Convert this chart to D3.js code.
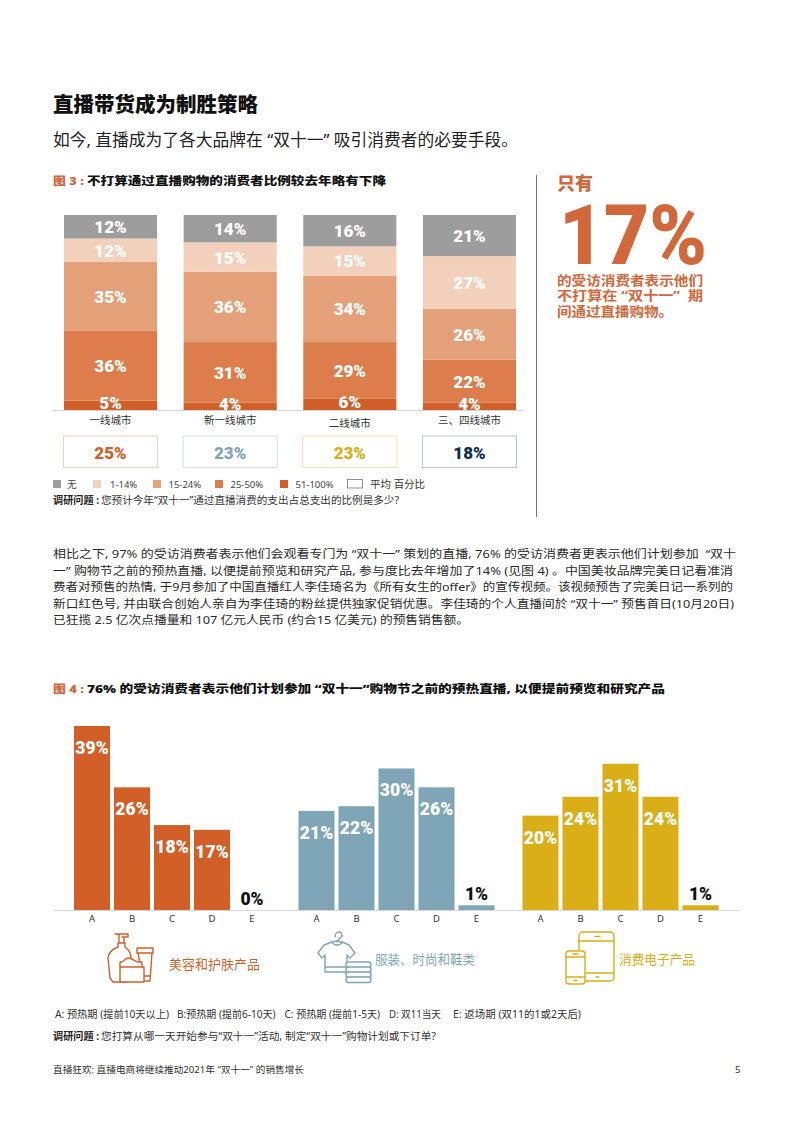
<!DOCTYPE html>
<html>
<head>
<meta charset="utf-8">
<script src="https://cdn.jsdelivr.net/npm/d3@7"></script>
<style>
  html, body { margin: 0; padding: 0; background: #fff; }
  svg { display: block; }
  text { font-family: "Noto Sans", "Noto Sans CJK SC", sans-serif; white-space: pre; }
  .num { font-family: Roboto, "Noto Sans", sans-serif; font-weight: 900; }
  .icon { fill: #fff; stroke-width: 1.4; stroke-linejoin: round; stroke-linecap: round; }
</style>
</head>
<body>
<svg id="page" width="793" height="1122"></svg>
<script>
// figure 3
const cities = ["一线城市", "新一线城市", "二线城市", "三、四线城市"];
const spendBands = ["无", "1-14%", "15-24%", "25-50%", "51-100%"];
const spendNone = [12, 14, 16, 21];
const spendLow = [12, 15, 15, 27];
const spendMid = [35, 36, 34, 26];
const spendHigh = [36, 31, 29, 22];
const spendTop = [5, 4, 6, 4];
const averages = [25, 23, 23, 18];

// figure 4
const dayLabels = ["A", "B", "C", "D", "E"];
const beauty = [39, 26, 18, 17, 0];
const fashion = [21, 22, 30, 26, 1];
const electronics = [20, 24, 31, 24, 1];
const dayNotes = ["A: 预热期 (提前10天以上)", "B:预热期 (提前6-10天)", "C: 预热期 (提前1-5天)", "D: 双11当天", "E: 返场期 (双11的1或2天后)"];

const bandColors = ["#9d9d9d", "#f3d0bb", "#e4a078", "#dc7d4b", "#d15f27"];
const orange = "#d15f27", blue = "#7fa6b6", yellow = "#d9ae17", navy = "#0d2f4c";
const accent = "#d2673a", ink = "#222";

const svg = d3.select("#page");

function label(x, y, str, size, opts){
    opts = opts || {};
    const t = svg.append("text")
        .attr("x", x).attr("y", y)
        .attr("font-size", size)
        .attr("fill", opts.fill || ink)
        .attr("text-anchor", opts.anchor || "start")
        .attr("font-weight", opts.weight || 400)
        .text(str);
    if(opts.width) t.attr("textLength", opts.width).attr("lengthAdjust", "spacingAndGlyphs");
    if(opts.num) t.attr("class", "num");
    return t;
}

// headings
label(53, 112, "直播带货成为制胜策略", 20.5, {weight: 900, fill: "#111", width: 205});
label(53, 146, "如今, 直播成为了各大品牌在 “双十一” 吸引消费者的必要手段。", 16.5, {width: 465});

function figTitle(y, num, str, width){
    label(53, y, "图 " + num + " :", 11, {weight: 900, fill: accent, width: 31});
    label(87, y, str, 11, {weight: 900, fill: "#111", width: width});
}
figTitle(185, 3, "不打算通过直播购物的消费者比例较去年略有下降", 299);
figTitle(693, 4, "76% 的受访消费者表示他们计划参加 “双十一”购物节之前的预热直播, 以便提前预览和研究产品", 578);

// figure 3: stacked bars
const stackX = d3.scaleBand().domain(cities).range([64, 516]).paddingInner(0.222);
const stackY = d3.scaleLinear().domain([0, 100]).range([410.5, 215]);

const stackRows = cities.map((city, i) => {
    const row = {city: city};
    [spendNone, spendLow, spendMid, spendHigh, spendTop].forEach((s, k) => { row[spendBands[k]] = s[i]; });
    return row;
});
const series = d3.stack().keys(spendBands.slice().reverse())(stackRows);

const layers = svg.append("g").selectAll("g").data(series).enter().append("g")
    .attr("fill", d => bandColors[spendBands.indexOf(d.key)]);

layers.selectAll("rect").data(d => d).enter().append("rect")
    .attr("x", d => stackX(d.data.city))
    .attr("y", d => stackY(d[1]))
    .attr("width", stackX.bandwidth())
    .attr("height", d => stackY(d[0]) - stackY(d[1]));

// labels go in their own pass, the thin bottom segment would get covered otherwise
svg.append("g").selectAll("g").data(series).enter().append("g")
    .selectAll("text").data(d => d).enter().append("text")
    .attr("class", "num")
    .attr("x", d => stackX(d.data.city) + stackX.bandwidth() / 2)
    .attr("y", d => (stackY(d[0]) + stackY(d[1])) / 2 + 6.5 - (d[1] - d[0] < 8 ? 3 : 0))
    .attr("text-anchor", "middle")
    .attr("font-size", 17)
    .attr("fill", "#fff")
    .text(d => (d[1] - d[0]) + "%");

const stackAxis = svg.append("g")
    .attr("transform", "translate(0,410.5)")
    .call(d3.axisBottom(stackX).tickSize(0).tickPadding(3));
stackAxis.select(".domain").attr("d", "M53,0H523").attr("stroke", "#d4d4d4").attr("stroke-width", 1);
stackAxis.selectAll("text")
    .attr("font-family", null)
    .attr("font-size", 10.5)
    .attr("fill", "#333")
    .attr("dy", (d, i) => i === 2 ? "1.25em" : "1em");

// average boxes
const boxColors = ["#f3d0bb", "#d3dfe5", "#f2e3ae", "#bcc6ce"];
const textColors = [orange, blue, yellow, navy];
const boxes = svg.append("g").selectAll("g").data(averages).enter().append("g");
boxes.append("rect")
    .attr("x", (d, i) => stackX(cities[i]) - 0.5)
    .attr("y", 436)
    .attr("width", stackX.bandwidth() + 1)
    .attr("height", 31.5)
    .attr("fill", "#fff")
    .attr("stroke", (d, i) => boxColors[i]);
boxes.append("text")
    .attr("class", "num")
    .attr("x", (d, i) => stackX(cities[i]) + stackX.bandwidth() / 2)
    .attr("y", 458.5)
    .attr("text-anchor", "middle")
    .attr("font-size", 17)
    .attr("fill", (d, i) => textColors[i])
    .text(d => d + "%");

// legend
const legendX = d3.scaleOrdinal().domain(spendBands).range([53, 93, 153, 215, 280]);
const legend = svg.append("g").selectAll("g").data(spendBands).enter().append("g");
legend.append("rect")
    .attr("x", d => legendX(d)).attr("y", 480)
    .attr("width", 8).attr("height", 8)
    .attr("fill", (d, i) => bandColors[i]);
legend.append("text")
    .attr("x", d => legendX(d) + (d === "无" ? 14 : d === "1-14%" ? 17 : 15.5))
    .attr("y", 488)
    .attr("font-size", 9.5)
    .attr("fill", "#444")
    .text(d => d);
svg.append("rect").attr("x", 347.5).attr("y", 479.5).attr("width", 15).attr("height", 8.5)
    .attr("fill", "#fff").attr("stroke", "#777").attr("stroke-width", 0.8);
label(370, 488, "平均 百分比", 10, {fill: "#333", width: 55});
label(53, 504, "调研问题 :", 10, {weight: 700, fill: "#222", width: 46});
label(101, 504, "您预计今年“双十一”通过直播消费的支出占总支出的比例是多少?", 10, {fill: "#333", width: 298});

// callout
svg.append("line").attr("x1", 536.5).attr("x2", 536.5).attr("y1", 175).attr("y2", 517)
    .attr("stroke", "#777").attr("stroke-width", 1);
label(557, 190, "只有", 18, {weight: 900, fill: accent});
label(559, 263.5, "17%", 84, {num: true, fill: accent, width: 148});
label(557, 285, "的受访消费者表示他们", 13, {weight: 700, fill: accent, width: 146});
label(557, 300, "不打算在 “双十一”  期", 13, {weight: 700, fill: accent, width: 146});
label(557, 316, "间通过直播购物。", 13, {weight: 700, fill: accent, width: 116});

// body copy
const bodyLines = [
    ["相比之下, 97% 的受访消费者表示他们会观看专门为 “双十一” 策划的直播, 76% 的受访消费者更表示他们计划参加  “双十", 683],
    ["一” 购物节之前的预热直播, 以便提前预览和研究产品, 参与度比去年增加了14% (见图 4) 。中国美妆品牌完美日记看准消", 680],
    ["费者对预售的热情, 于9月参加了中国直播红人李佳琦名为《所有女生的offer》的宣传视频。该视频预告了完美日记一系列的", 680],
    ["新口红色号, 并由联合创始人亲自为李佳琦的粉丝提供独家促销优惠。李佳琦的个人直播间於 “双十一” 预售首日(10月20日)", 681],
    ["已狂揽 2.5 亿次点播量和 107 亿元人民币 (约合15 亿美元) 的预售销售额。", 416]
];
bodyLines.forEach((l, i) => {
    label(53, 558 + i * 16.5, l[0], 11.5, {width: l[1], fill: "#2a2a2a"});
});

// figure 4: grouped bars
const barY = d3.scaleLinear().domain([0, 39]).range([910, 726]);
const groups = [
    {values: beauty, range: [74, 270], color: orange},
    {values: fashion, range: [298.5, 494.5], color: blue},
    {values: electronics, range: [522.5, 718.5], color: yellow}
];

groups.forEach(group => {
    const x = d3.scaleBand().domain(dayLabels).range(group.range).paddingInner(0.1);
    const g = svg.append("g");
    const rows = dayLabels.map((d, i) => ({day: d, value: group.values[i]}));

    g.selectAll("rect").data(rows).enter().append("rect")
        .attr("x", d => x(d.day))
        .attr("y", d => barY(d.value))
        .attr("width", x.bandwidth())
        .attr("height", d => barY(0) - barY(d.value))
        .attr("fill", group.color);

    g.selectAll("text.num").data(rows).enter().append("text")
        .attr("class", "num")
        .attr("x", d => x(d.day) + x.bandwidth() / 2)
        .attr("y", d => d.value < 5 ? barY(d.value) - 5 : barY(d.value) + 28)
        .attr("text-anchor", "middle")
        .attr("font-size", 17.5)
        .attr("fill", d => d.value < 5 ? "#111" : "#fff")
        .text(d => d.value + "%");

    const axis = svg.append("g")
        .attr("transform", "translate(0,910)")
        .call(d3.axisBottom(x).tickSize(0).tickPadding(5));
    axis.select(".domain").remove();
    axis.selectAll("text").attr("font-family", "Roboto").attr("font-size", 9.5).attr("fill", "#333");
});
svg.append("line").attr("x1", 53).attr("x2", 740).attr("y1", 910.5).attr("y2", 910.5)
    .attr("stroke", "#d9d9d9").attr("stroke-width", 1);

// icons
function icon(color, draw){
    const g = svg.append("g").attr("class", "icon").attr("stroke", color);
    draw(g);
}
icon(orange, g => {
    // pump bottle
    g.append("path").attr("d", "M115,934H128V937H122M119,934V943M124,937V943M118,943H125V947C129,950 131,953 131,958V978L127,982H113L110,978L108,958C108,953 111,950 118,947Z");
    // tube
    g.append("path").attr("d", "M137,948H153V953H137ZM138,953L143,981H150L152,953M143,976H150");
    // jar
    g.append("path").attr("d", "M122,962C125,960 126,958 128,958C131,958 134,960 137,962H142V967H120V962ZM120,967V982H144V967Z");
});
icon(blue, g => {
    // hanger + shirt
    g.append("path").attr("d", "M335,937C335,934 337,932 339,932C341,932 342,934 342,936C342,938 337,939 337,942").attr("fill", "none");
    g.append("path").attr("d", "M332,942C334,946 340,946 342,942L349,945L355,953L350,958L347,955V972H325V955L322,958L318,953L324,945Z");
    g.append("path").attr("d", "M325,967H346M332,942L337,941L342,942").attr("fill", "none");
    // folded stack
    [962, 967, 972, 977].forEach(y => {
        g.append("rect").attr("x", 346).attr("y", y).attr("width", 25).attr("height", 5.5).attr("rx", 2.5);
    });
});
icon(yellow, g => {
    g.attr("stroke-width", 2);
    g.append("rect").attr("x", 579).attr("y", 932).attr("width", 35).attr("height", 49).attr("rx", 4);
    g.append("path").attr("d", "M579,941H614M579,973H614M595,936.5H600M596,977H599").attr("fill", "none");
    g.append("rect").attr("x", 566).attr("y", 951).attr("width", 19).attr("height", 33).attr("rx", 3);
    g.append("path").attr("d", "M566,957H585M566,977H585M573,954H578M574,980.5H577").attr("fill", "none");
});
label(169, 969, "美容和护肤产品", 13, {fill: orange, width: 91});
label(375, 964, "服装、时尚和鞋类", 13, {fill: blue, width: 100});
label(619, 964, "消费电子产品", 13, {fill: yellow, width: 76});

// notes and footer
const noteX = d3.scaleOrdinal().domain(dayNotes).range([55, 177, 284.5, 389, 453]);
const noteWidth = d3.scaleOrdinal().domain(dayNotes).range([114, 98.5, 95.5, 52, 128]);
svg.append("g").selectAll("text").data(dayNotes).enter().append("text")
    .attr("x", d => noteX(d))
    .attr("y", 1018)
    .attr("font-size", 10)
    .attr("fill", "#333")
    .attr("textLength", d => noteWidth(d))
    .attr("lengthAdjust", "spacingAndGlyphs")
    .text(d => d);
label(53, 1040, "调研问题 :", 10, {weight: 700, fill: "#222", width: 46});
label(101, 1040, "您打算从哪一天开始参与“双十一”活动, 制定“双十一”购物计划或下订单?", 10, {fill: "#333", width: 335});
label(53, 1073, "直播狂欢: 直播电商将继续推动2021年 “双十一” 的销售增长", 9.5, {fill: "#333", width: 251});
label(735, 1073, "5", 9.5, {fill: "#333"});
</script>
</body>
</html>
